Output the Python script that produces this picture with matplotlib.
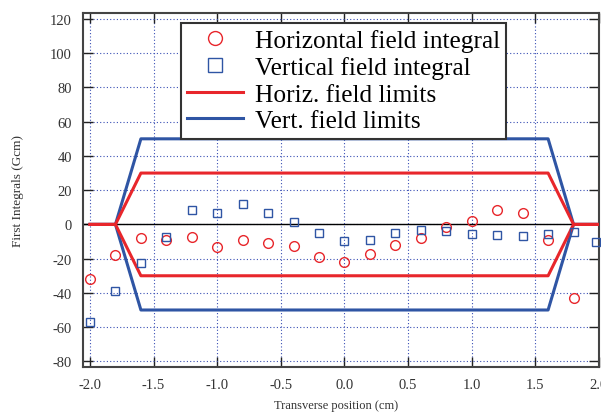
import matplotlib
matplotlib.use("Agg")
import matplotlib.pyplot as plt
import numpy as np
from matplotlib.lines import Line2D

plt.rcParams['font.family'] = ['Liberation Serif', 'DejaVu Serif']
plt.rcParams['axes.unicode_minus'] = False

# Data
x_pos = [-2.0, -1.8, -1.6, -1.4, -1.2, -1.0, -0.8, -0.6, -0.4, -0.2, 0.0,
         0.2, 0.4, 0.6, 0.8, 1.0, 1.2, 1.4, 1.6, 1.8]
horiz = [-32, -18, -7.8, -9.4, -7.2, -13.3, -9, -10.9, -12.7, -19.1, -22.2,
         -17.5, -12.3, -8.2, -1.8, 2, 8.6, 6.4, -9.4, -43]

x_pos_v = [-2.0, -1.8, -1.6, -1.4, -1.2, -1.0, -0.8, -0.6, -0.4, -0.2, 0.0,
           0.2, 0.4, 0.6, 0.8, 1.0, 1.2, 1.4, 1.6, 1.8, 1.98]
vert = [-57, -39, -22.4, -7.4, 8.6, 6.6, 11.9, 6.8, 1.2, -5, -9.6,
        -9.4, -5, -3.5, -3.7, -5.5, -6.4, -7, -5.8, -4.5, -10]

lim_x = [-2.0, -1.8, -1.6, 1.6, 1.8, 2.1]
h_lim_upper = [0, 0, 30, 30, 0, 0]
h_lim_lower = [0, 0, -30, -30, 0, 0]
v_lim_upper = [0, 0, 50, 50, 0, 0]
v_lim_lower = [0, 0, -50, -50, 0, 0]

xtick_vals = [-2.0, -1.5, -1.0, -0.5, 0.0, 0.5, 1.0, 1.5, 2.0]
xtick_labels = ['-2.0', '-1.5', '-1.0', '-0.5', '0.0', '0.5', '1.0', '1.5', '2.0']
ytick_vals = [-80, -60, -40, -20, 0, 20, 40, 60, 80, 100, 120]

fig = plt.figure(figsize=(6.01, 4.14), dpi=100)
W, H = 601, 414
left, right, top, bottom = 83, 599, 14, 368
ax = fig.add_axes([left / W, 1 - bottom / H, (right - left) / W, (bottom - top) / H])

red = '#e8262b'
blue = '#2f55a4'

ax.axhline(0, color='black', lw=1.0, zorder=2)
ax.plot(lim_x, v_lim_upper, color=blue, lw=2.2, zorder=3)
ax.plot(lim_x, v_lim_lower, color=blue, lw=2.2, zorder=3)
ax.plot(lim_x, h_lim_upper, color=red, lw=2.2, zorder=4)
ax.plot(lim_x, h_lim_lower, color=red, lw=2.2, zorder=4)

ax.plot(x_pos, horiz, linestyle='none', marker='o', ms=7, mfc='none', mec=red,
        mew=1.0, zorder=5, clip_on=False)
ax.plot(x_pos_v, vert, linestyle='none', marker='s', ms=6.2, mfc='none', mec=blue,
        mew=1.0, zorder=5, clip_on=False)

handles = [
    Line2D([], [], linestyle='none', marker='o', ms=10, mfc='none', mec=red, mew=1.0),
    Line2D([], [], linestyle='none', marker='s', ms=10, mfc='none', mec=blue, mew=1.0),
    Line2D([], [], color=red, lw=2.2),
    Line2D([], [], color=blue, lw=2.2),
]
labels = ['Horizontal field integral', 'Vertical field integral',
          'Horiz. field limits', 'Vert. field limits']
ax_w = right - left
ax_h = bottom - top
leg = ax.legend(handles, labels, loc='upper left',
                bbox_to_anchor=((181 - left) / ax_w, 1 - (24 - top) / ax_h),
                fontsize=18.3, frameon=True, fancybox=False, framealpha=1,
                edgecolor='#333333', handlelength=2.2, handletextpad=0.45,
                labelspacing=0.15, borderpad=0.25, borderaxespad=0)
leg.get_frame().set_linewidth(1.5)
leg.set_zorder(10)

ax.set_xlim(-2.055, 2.0)
ax.set_ylim(-83.3, 123.5)
ax.set_xticks(xtick_vals)
ax.set_xticklabels(xtick_labels)
ax.set_yticks(ytick_vals)
ax.grid(True, color='#3a4fb5', linestyle=(0, (1, 2)), lw=0.8)
ax.set_axisbelow(True)

ax.tick_params(direction='in', length=7, width=1.0, top=True, right=True,
               labelsize=10.5, labelcolor='#333333', color='#222222', pad=8)
for s in ax.spines.values():
    s.set_linewidth(1.5)
    s.set_color('#444444')

fig.text(18 / W, 1 - 191 / H, 'First Integrals (Gcm)', rotation=90, ha='center',
         va='center', fontsize=9.5, color='#333333')
fig.text(336 / W, 1 - 406 / H, 'Transverse position (cm)', ha='center', va='center',
         fontsize=9, color='#333333')

fig.savefig('out.png', dpi=100)
